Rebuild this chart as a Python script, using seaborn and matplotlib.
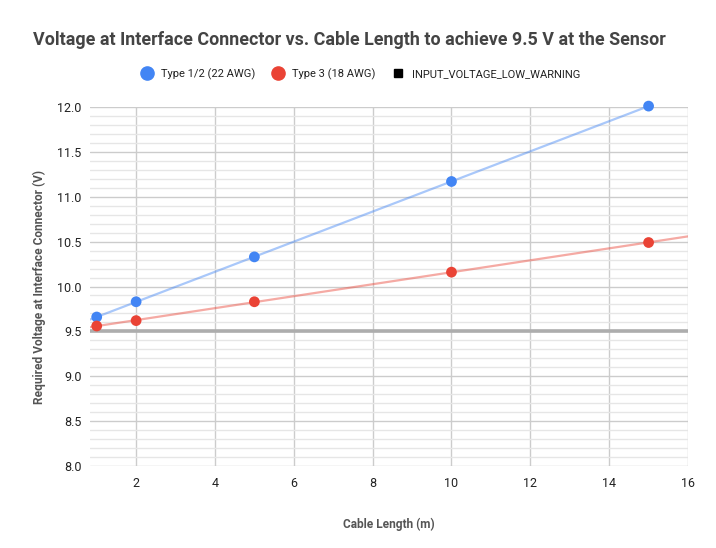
import matplotlib
matplotlib.use("Agg")
import matplotlib.pyplot as plt
from matplotlib.lines import Line2D
from matplotlib.ticker import MultipleLocator, FormatStrFormatter
import pandas as pd
import seaborn as sns

# ── Data ──────────────────────────────────────────────────────────────────────
cable_length_m = [1, 2, 5, 10, 15]
type12_voltage = [9.66, 9.83, 10.33, 11.17, 12.01]
type3_voltage = [9.56, 9.62, 9.83, 10.16, 10.49]
warning_voltage = 9.5

series_names = ["Type 1/2 (22 AWG)", "Type 3 (18 AWG)"]
warning_name = "INPUT_VOLTAGE_LOW_WARNING"
colors = {"Type 1/2 (22 AWG)": "#4285F4", "Type 3 (18 AWG)": "#EA4335"}

df = pd.DataFrame({
    "length": cable_length_m * 2,
    "voltage": type12_voltage + type3_voltage,
    "series": [series_names[0]] * len(cable_length_m) + [series_names[1]] * len(cable_length_m),
})

sns.set_theme(style="white")
plt.rcParams["font.family"] = ["Roboto", "DejaVu Sans"]

fig = plt.figure(figsize=(7.16, 5.48), dpi=100)
ax = fig.add_axes([90 / 716, 1 - 466 / 548, (688 - 90) / 716, (466 - 107) / 548])

ax.set_xlim(0.83, 16)
ax.set_ylim(8.0, 12.0)

# grid
ax.yaxis.set_major_locator(MultipleLocator(0.5))
ax.yaxis.set_minor_locator(MultipleLocator(0.1))
ax.xaxis.set_major_locator(MultipleLocator(2))
ax.grid(which="major", color="#cccccc", linewidth=1.0)
ax.grid(which="minor", axis="y", color="#e6e6e6", linewidth=1.0)
ax.set_axisbelow(True)
for s in ax.spines.values():
    s.set_visible(False)

# warning line
ax.axhline(warning_voltage, color="#adadad", linewidth=2.6, zorder=2)

# trendlines across the full x range
for name in series_names:
    sub = df[df["series"] == name]
    sns.regplot(data=sub, x="length", y="voltage", ax=ax, scatter=False, ci=None,
                truncate=False, color=colors[name],
                line_kws={"alpha": 0.45, "linewidth": 1.6, "zorder": 3})

ax.set_xlim(0.83, 16)
ax.set_ylim(8.0, 12.0)

sns.scatterplot(data=df, x="length", y="voltage", hue="series", palette=colors,
                s=60, edgecolor="none", ax=ax, legend=False, zorder=4, clip_on=False)

ax.tick_params(axis="both", which="both", length=0, labelsize=9, labelcolor="#222222")
ax.tick_params(axis="y", pad=6)
ax.tick_params(axis="x", pad=8)
ax.set_xticks([2, 4, 6, 8, 10, 12, 14, 16])
ax.yaxis.set_major_formatter(FormatStrFormatter("%.1f"))

ax.set_xlabel("Cable Length (m)", fontsize=8.6, fontweight="bold", color="#555555", labelpad=20)
ax.set_ylabel("Required Voltage at Interface Connector (V)", fontsize=8.6,
              fontweight="bold", color="#555555", labelpad=8)

fig.text(349 / 716, 1 - 40 / 548,
         "Voltage at Interface Connector vs. Cable Length to achieve 9.5 V at the Sensor",
         ha="center", va="center", fontsize=12.9, fontweight="bold", color="#444444")

handles = [
    Line2D([], [], marker="o", linestyle="none", color=colors[series_names[0]], markersize=9.5),
    Line2D([], [], marker="o", linestyle="none", color=colors[series_names[1]], markersize=9.5),
    Line2D([], [], marker="s", linestyle="none", color="#000000", markersize=5.5),
]
fig.legend(handles, series_names + [warning_name], loc="center",
           bbox_to_anchor=(0.5, 1 - 74 / 548), ncol=3, frameon=False, fontsize=8,
           handletextpad=0.3, columnspacing=1.0, labelcolor="#222222")

fig.savefig("out.png", dpi=100)
